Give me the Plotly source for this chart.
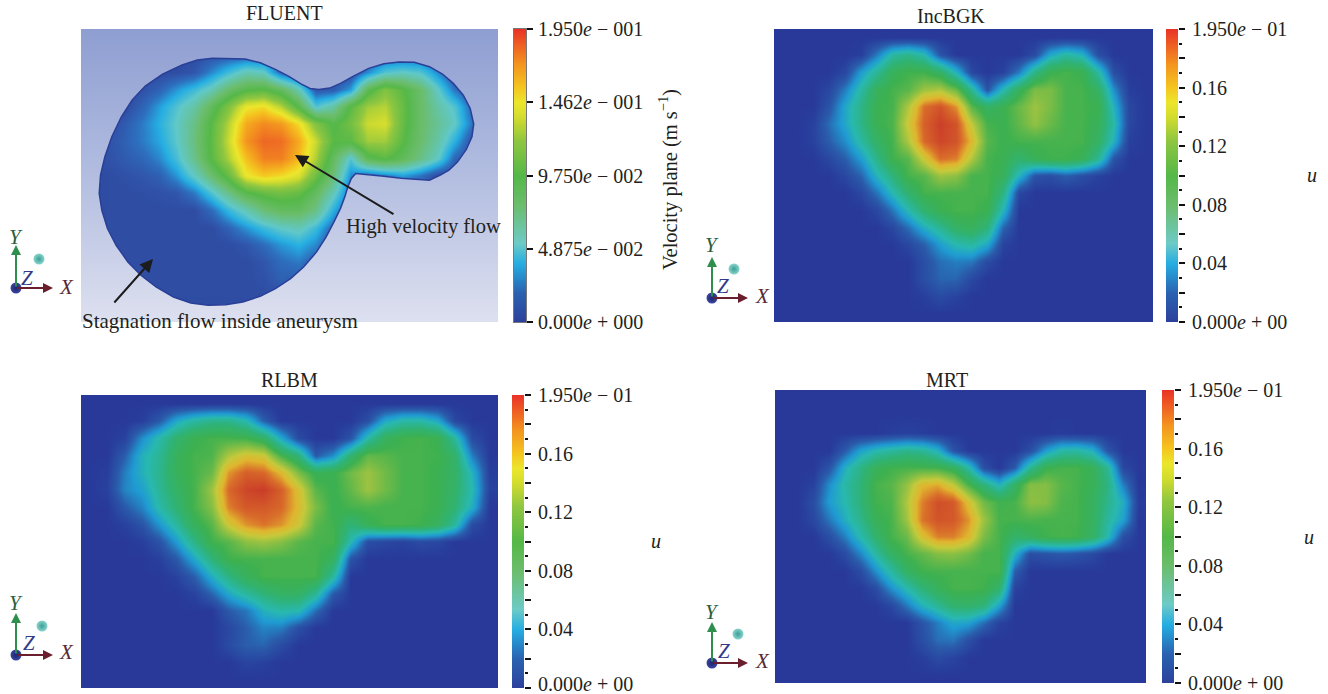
import plotly.graph_objects as go

W, H = 1328, 694
SERIF = "Liberation Serif"
INK = "#231f20"

# Velocity fields, in 0.001 m/s on a 24 x 17 grid (top row first)
FLUENT_U = [
[5]*24,
[5,5,5,5,5,5,5,8,10,10,10,5,5,5,5,5,5,10,10,10,5,5,5,5],
[5,5,5,5,5,6,10,25,40,55,50,15,5,5,5,5,25,45,50,45,25,5,5,5],
[5,5,5,8,15,28,40,55,80,95,100,85,55,10,12,30,90,115,100,80,50,20,5,5],
[5,5,5,15,30,45,60,88,115,145,150,130,95,45,60,100,125,130,105,80,60,45,15,5],
[5,5,12,22,35,50,70,100,130,165,175,170,150,115,95,110,135,138,105,80,65,50,20,5],
[5,8,14,22,32,48,72,102,135,172,186,184,165,135,100,100,125,125,100,78,60,35,8,5],
[5,8,12,16,25,42,68,100,128,158,178,178,160,128,85,45,90,100,88,70,50,15,5,5],
[5,6,8,10,14,28,50,78,105,145,155,150,140,108,75,25,15,22,30,20,5,5,5,5],
[5,6,6,7,8,10,22,45,70,95,105,110,105,85,55,15,5,5,5,5,5,5,5,5],
[5,6,6,6,6,6,6,18,38,55,75,85,85,70,35,5,5,5,5,5,5,5,5,5],
[5,6,6,6,6,6,6,6,15,28,40,50,55,40,15,5,5,5,5,5,5,5,5,5],
[5,6,6,6,6,6,6,6,6,10,18,28,35,25,5,5,5,5,5,5,5,5,5,5],
[5,6,6,6,6,6,6,6,6,6,10,18,22,12,5,5,5,5,5,5,5,5,5,5],
[5,6,6,6,6,6,6,6,6,6,8,14,12,5,5,5,5,5,5,5,5,5,5,5],
[5,6,6,6,6,6,6,6,6,6,6,6,5,5,5,5,5,5,5,5,5,5,5,5],
[5]*24,
]
INCBGK_U = [
[0]*24,
[0,0,0,0,0,3,30,60,68,55,15,0,0,0,0,0,10,45,60,50,12,0,0,0],
[0,0,0,0,8,40,65,90,98,98,85,50,8,0,5,30,70,95,100,95,60,12,0,0],
[0,0,0,8,30,60,90,100,105,125,130,110,65,15,55,90,115,115,100,100,85,35,3,0],
[0,0,0,15,45,70,95,100,130,170,180,160,105,85,95,110,125,115,100,100,95,50,8,0],
[0,0,5,25,45,70,95,102,140,175,188,180,135,100,95,108,122,110,100,100,90,58,8,0],
[0,0,5,20,35,60,85,100,130,172,186,180,150,105,95,100,100,100,100,100,85,50,4,0],
[0,0,0,8,20,40,70,98,105,140,170,165,130,100,95,80,92,98,98,92,65,15,0,0],
[0,0,0,0,8,22,52,75,100,105,125,120,100,100,90,50,15,12,20,12,5,0,0,0],
[0,0,0,0,0,8,28,55,80,100,100,100,100,100,72,8,0,0,0,0,0,0,0,0],
[0,0,0,0,0,0,8,28,55,80,95,100,100,95,52,0,0,0,0,0,0,0,0,0],
[0,0,0,0,0,0,0,8,25,48,65,85,90,75,22,0,0,0,0,0,0,0,0,0],
[0,0,0,0,0,0,0,0,8,20,40,55,60,45,5,0,0,0,0,0,0,0,0,0],
[0,0,0,0,0,0,0,0,0,12,25,30,28,10,0,0,0,0,0,0,0,0,0,0],
[0,0,0,0,0,0,0,0,0,12,22,22,8,0,0,0,0,0,0,0,0,0,0,0],
[0,0,0,0,0,0,0,0,0,3,10,5,0,0,0,0,0,0,0,0,0,0,0,0],
[0]*24,
]
RLBM_U = [
[0]*24,
[0,0,0,3,18,45,60,68,68,55,20,0,0,0,0,0,12,45,58,58,45,8,0,0],
[0,0,5,35,58,80,95,100,100,98,85,45,10,0,0,15,58,88,98,100,95,62,10,0],
[0,0,20,50,65,90,100,102,130,145,140,100,75,18,35,80,108,105,100,100,98,82,30,0],
[0,3,30,50,68,90,100,110,160,175,172,150,115,92,95,112,125,112,100,100,95,85,50,3],
[0,5,32,42,65,85,100,125,172,186,190,175,145,105,95,108,125,112,100,100,95,82,55,5],
[0,0,18,32,58,78,100,118,165,178,178,172,148,115,95,100,102,100,100,100,95,78,48,0],
[0,0,4,15,38,62,90,105,140,160,168,160,140,105,98,75,92,100,100,98,88,62,10,0],
[0,0,0,3,15,40,70,98,105,120,125,118,105,100,100,55,12,8,5,10,8,0,0,0],
[0,0,0,0,4,18,45,75,98,100,100,100,100,100,88,15,0,0,0,0,0,0,0,0],
[0,0,0,0,0,5,20,48,72,90,100,100,100,100,62,0,0,0,0,0,0,0,0,0],
[0,0,0,0,0,0,5,22,45,62,75,85,85,65,18,0,0,0,0,0,0,0,0,0],
[0,0,0,0,0,0,0,0,18,28,50,58,55,25,0,0,0,0,0,0,0,0,0,0],
[0,0,0,0,0,0,0,0,8,20,32,30,12,0,0,0,0,0,0,0,0,0,0,0],
[0,0,0,0,0,0,0,0,10,20,22,10,0,0,0,0,0,0,0,0,0,0,0,0],
[0,0,0,0,0,0,0,0,0,6,4,0,0,0,0,0,0,0,0,0,0,0,0,0],
[0]*24,
]
MRT_U = [
[0]*24,
[0]*24,
[0,0,0,0,0,0,0,3,5,3,0,0,0,0,0,0,0,0,2,0,0,0,0,0],
[0,0,0,0,18,42,55,62,68,65,50,15,0,0,0,0,12,40,58,60,50,15,0,0],
[0,0,0,15,48,70,90,98,100,100,98,88,58,12,0,18,65,95,100,100,92,65,8,0],
[0,0,5,35,58,75,100,105,122,150,155,135,100,75,50,85,118,118,105,100,92,72,30,0],
[0,0,12,40,55,75,98,102,130,165,182,178,145,112,98,100,120,118,102,100,88,68,48,2],
[0,0,8,28,48,68,92,100,125,168,180,178,160,125,100,100,102,100,100,100,88,62,42,0],
[0,0,0,12,30,55,80,100,110,145,165,165,150,115,100,82,88,98,100,98,85,55,12,0],
[0,0,0,0,10,32,60,85,100,108,118,120,112,100,100,50,12,15,18,15,10,0,0,0],
[0,0,0,0,0,10,35,60,85,98,100,100,100,100,100,20,0,0,0,0,0,0,0,0],
[0,0,0,0,0,0,10,35,55,75,90,100,100,98,80,5,0,0,0,0,0,0,0,0],
[0,0,0,0,0,0,0,8,28,50,65,80,82,75,42,0,0,0,0,0,0,0,0,0],
[0,0,0,0,0,0,0,0,0,15,30,45,42,25,5,0,0,0,0,0,0,0,0,0],
[0,0,0,0,0,0,0,0,0,12,25,27,12,0,0,0,0,0,0,0,0,0,0,0],
[0,0,0,0,0,0,0,0,0,3,10,6,0,0,0,0,0,0,0,0,0,0,0,0],
[0]*24,
]

# Outline of the FLUENT geometry, in the panel's own units (x 187..1148, y 87..965)
OUTLINE_X = [490,530,565,600,635,665,695,715,735,760,785,815,850,885,920,955,990,1020,1045,1068,1084,1092,1088,1075,1055,1035,1015,990,960,925,885,845,820,810,802,795,785,770,752,730,700,670,635,600,560,520,480,440,400,360,325,295,268,248,235,229,232,242,258,280,305,335,375,420,455,490]
OUTLINE_Y = [175,175,177,188,208,228,252,265,268,264,250,228,205,191,186,187,200,222,250,285,325,372,410,448,485,510,525,540,538,534,528,522,520,535,560,590,625,665,710,755,800,835,865,888,905,913,915,908,890,860,825,785,735,685,630,580,525,470,410,350,300,258,222,195,180,175]

PANEL_TITLES = ["FLUENT", "IncBGK", "RLBM", "MRT"]
FLUENT_TICKVALS = [0, 0.04875, 0.0975, 0.14625, 0.195]
FLUENT_TICKTEXT = ["0.000<i>e</i> + 000", "4.875<i>e</i> − 002", "9.750<i>e</i> − 002", "1.462<i>e</i> − 001", "1.950<i>e</i> − 001"]
LBM_TICKVALS = [0, 0.02, 0.04, 0.06, 0.08, 0.10, 0.12, 0.14, 0.16, 0.18, 0.20]
LBM_TICKTEXT = ["0.000<i>e</i> + 00", "", "0.04", "", "0.08", "", "0.12", "", "0.16", "", "1.950<i>e</i> − 01"]
LBM_MINOR = [0.01, 0.03, 0.05, 0.07, 0.09, 0.11, 0.13, 0.15, 0.17, 0.19]
BOTTOM_LABEL = "0.000<i>e</i> + 00"

BAR_SCALE = [[0,"#2c409b"],[0.1,"#2a62b0"],[0.2,"#25ade2"],[0.27,"#6dcac6"],[0.4,"#6bbd6c"],[0.5,"#55b848"],
             [0.62,"#8fc640"],[0.7,"#d2dc2e"],[0.75,"#ece62c"],[0.8,"#f4c61f"],[0.88,"#f3951f"],[1,"#ea3327"]]
FLUENT_SCALE = [[0,"#2a3f97"],[0.05,"#3055aa"],[0.1,"#2d6fbe"],[0.17,"#25ade2"],[0.25,"#60c8c8"],[0.4,"#6bbd6c"],[0.5,"#55b848"],
             [0.62,"#8fc640"],[0.7,"#d2dc2e"],[0.75,"#ece62c"],[0.8,"#f4c61f"],[0.88,"#f3951f"],[1,"#ea4a27"]]
FIELD_SCALE = [[0,"#28399a"],[0.1,"#2a5cab"],[0.2,"#1f9bd2"],[0.28,"#28b8b0"],[0.4,"#30b270"],[0.5,"#3eb14f"],
               [0.62,"#8fc043"],[0.7,"#c5c93a"],[0.78,"#e0b52e"],[0.87,"#d96d2a"],[1,"#c62f28"]]

# name: field, scale, image box px (l,t,r,b), bar box px (l,r), axis units (x0,x1,y0,y1)
PANELS = [
 (FLUENT_U, FLUENT_SCALE, (81,29,498,322), (514,526), (187,1148,87,965)),
 (INCBGK_U, FIELD_SCALE, (774,29,1153,322), (1166,1178), (227,1142,87,968)),
 (RLBM_U, FIELD_SCALE, (81,395,498,688), (512,524), (53,1108,105,983)),
 (MRT_U, FIELD_SCALE, (775,390,1146,683), (1162,1174), (68,1074,90,968)),
]

fig = go.Figure()
layout = {}
def dx(a, b): return [a/W, b/W]
def dy(t, b): return [1-b/H, 1-t/H]

n = 2
for k, (field, scale, box, bar, units) in enumerate(PANELS):
    l, t, r, b = box
    ux0, ux1, uy0, uy1 = units
    nr, nc = len(field), len(field[0])
    xa, ya = f"xaxis{n}", f"yaxis{n}"
    layout[xa] = dict(domain=dx(l, r), range=[ux0, ux1], visible=False, anchor=f"y{n}", automargin=False)
    layout[ya] = dict(domain=dy(t, b), range=[uy1, uy0], visible=False, anchor=f"x{n}", automargin=False)
    fig.add_trace(go.Heatmap(z=field, x0=ux0+(ux1-ux0)/nc/2, dx=(ux1-ux0)/nc,
                             y0=uy0+(uy1-uy0)/nr/2, dy=(uy1-uy0)/nr,
                             zmin=0, zmax=195, colorscale=scale, zsmooth="best",
                             showscale=False, hoverinfo="skip", xaxis=f"x{n}", yaxis=f"y{n}"))
    if k == 0:
        # backdrop with a hole of the geometry's shape (outline walked the other way round)
        mx = [ux0, ux1, ux1, ux0, ux0] + OUTLINE_X[::-1] + [ux0]
        my = [uy0, uy0, uy1, uy1, uy0] + OUTLINE_Y[::-1] + [uy0]
        fig.add_trace(go.Scatter(x=mx, y=my, mode="lines", fill="toself", line=dict(width=0),
                                 fillgradient=dict(type="vertical",
                                    colorscale=[[0,"#dde0ef"],[0.5,"#b2bde0"],[1,"#8e9ed1"]]),
                                 hoverinfo="skip", showlegend=False, xaxis=f"x{n}", yaxis=f"y{n}"))
        fig.add_trace(go.Scatter(x=OUTLINE_X, y=OUTLINE_Y, mode="lines", line=dict(color="#2a3f97", width=1.5),
                                 hoverinfo="skip", showlegend=False, xaxis=f"x{n}", yaxis=f"y{n}"))
    n += 1
    # colour bar drawn as its own small axis so it can carry major and minor ticks
    xa, ya = f"xaxis{n}", f"yaxis{n}"
    top = 0.195 if k == 0 else 0.20
    border = dict(showline=True, linecolor="#777777", linewidth=1, mirror=True) if k == 0 else dict(showline=False)
    layout[xa] = dict(domain=dx(*bar), range=[0, 1], showticklabels=False, ticks="", showgrid=False, zeroline=False,
                      anchor=f"y{n}", automargin=False, **border)
    yax = dict(domain=dy(t, b), range=[0, top], side="right", anchor=f"x{n}", showgrid=False, zeroline=False,
               automargin=False, tickmode="array", ticks="outside", ticklen=6, tickwidth=2, tickcolor="#111111",
               tickfont=dict(family=SERIF, size=20, color=INK), ticklabelstandoff=1 if k == 0 else 3, **border)
    if k == 0:
        yax.update(tickvals=FLUENT_TICKVALS, ticktext=FLUENT_TICKTEXT)
    else:
        labels = list(LBM_TICKTEXT)
        if k == 2:
            labels[0] = ""   # this label runs off the page edge: it is placed as a note below
        yax.update(tickvals=LBM_TICKVALS, ticktext=labels,
                   minor=dict(tickmode="array", tickvals=LBM_MINOR, ticks="outside", ticklen=3, tickwidth=2, tickcolor="#111111"))
    layout[ya] = yax
    fig.add_trace(go.Heatmap(z=[[0, 0], [0.195, 0.195]], x=[0, 1], y=[0, top], zmin=0, zmax=0.195,
                             colorscale=BAR_SCALE, zsmooth="best", showscale=False, hoverinfo="skip",
                             xaxis=f"x{n}", yaxis=f"y{n}"))
    n += 1

# full-page overlay axis in page pixels for the notes and the axis triads
ov = n
layout[f"xaxis{ov}"] = dict(domain=[0, 1], range=[0, W], visible=False, anchor=f"y{ov}", automargin=False)
layout[f"yaxis{ov}"] = dict(domain=[0, 1], range=[H, 0], visible=False, anchor=f"x{ov}", automargin=False)
xr, yr = f"x{ov}", f"y{ov}"

# triad: origin, Y tip, X tip, Y label, Z label, X label, ball
TRIADS = [
 ((16,288),(16,245),(53,288),(16,237),(27,278),(66,287),(39,259)),
 ((712,298),(712,257),(748,298),(712,245),(723,286),(762,296),(734,269)),
 ((16,655),(16,613),(53,655),(16,603),(29,643),(66,652),(42,626)),
 ((712,663),(712,622),(748,663),(712,612),(724,651),(762,661),(738,634)),
]
ann = []
def text(x, y, s, size=20, color=INK, **kw):
    ann.append(dict(x=x, y=y, xref=xr, yref=yr, text=s, showarrow=False,
                    font=dict(family=SERIF, size=size, color=color), **kw))
def arrow(x0, y0, x1, y1, color, width=2, head=2, size=1.0):
    ann.append(dict(x=x1, y=y1, ax=x0, ay=y0, xref=xr, yref=yr, axref=xr, ayref=yr, text="", showarrow=True,
                    arrowhead=head, arrowsize=size, arrowwidth=width, arrowcolor=color))

for o, ty, tx, ly, lz, lx, ball in TRIADS:
    arrow(o[0], o[1], ty[0], ty[1], "#2e8f4c")
    arrow(o[0], o[1], tx[0], tx[1], "#6b1f2e")
    text(ly[0], ly[1], "<i>Y</i>", color="#2d5d3a", size=21)
    text(lz[0], lz[1], "<i>Z</i>", color="#333a8a", size=21)
    text(lx[0], lx[1], "<i>X</i>", color="#5a2a35", size=21)

BALLS_X = [t[0][0] for t in TRIADS] + [t[6][0] for t in TRIADS]
BALLS_Y = [t[0][1] for t in TRIADS] + [t[6][1] for t in TRIADS]
BALL_COLORS = ["#3a46a0"]*4 + ["#8ad5cc"]*4
BALL_EDGE = ["#1d2570"]*4 + ["#3b9f97"]*4
fig.add_trace(go.Scatter(x=BALLS_X, y=BALLS_Y, mode="markers", showlegend=False, hoverinfo="skip",
                         marker=dict(size=11, color=BALL_COLORS, gradient=dict(type="radial", color=BALL_EDGE), line=dict(width=0)),
                         xaxis=xr, yaxis=yr))

text(284, 13, PANEL_TITLES[0], size=20)
text(951, 16, PANEL_TITLES[1], size=20)
text(289, 380, PANEL_TITLES[2], size=20)
text(947, 380, PANEL_TITLES[3], size=20)
text(423, 226, "High velocity flow", size=20.5)
text(220, 321, "Stagnation flow inside aneurysm", size=21)
arrow(395, 215, 295, 155, "#1c1c1c", width=2, head=2, size=1.3)
arrow(113, 304, 153, 259, "#1c1c1c", width=2, head=2, size=1.3)
text(668, 180, "Velocity plane (m s<sup>−1</sup>)", size=20.5, textangle=-90)
text(1312, 175, "<i>u</i>", size=20)
text(656, 541, "<i>u</i>", size=20)
text(1309, 537, "<i>u</i>", size=20)
text(585, 684, BOTTOM_LABEL, size=20)

fig.update_layout(width=W, height=H, margin=dict(l=0, r=0, t=0, b=0, autoexpand=False), paper_bgcolor="white", plot_bgcolor="rgba(0,0,0,0)",
                  showlegend=False, annotations=ann, **layout)
fig.write_html("out.html", config={"displayModeBar": False},
               post_script="document.body.style.margin='0';document.body.style.overflow='hidden';")
